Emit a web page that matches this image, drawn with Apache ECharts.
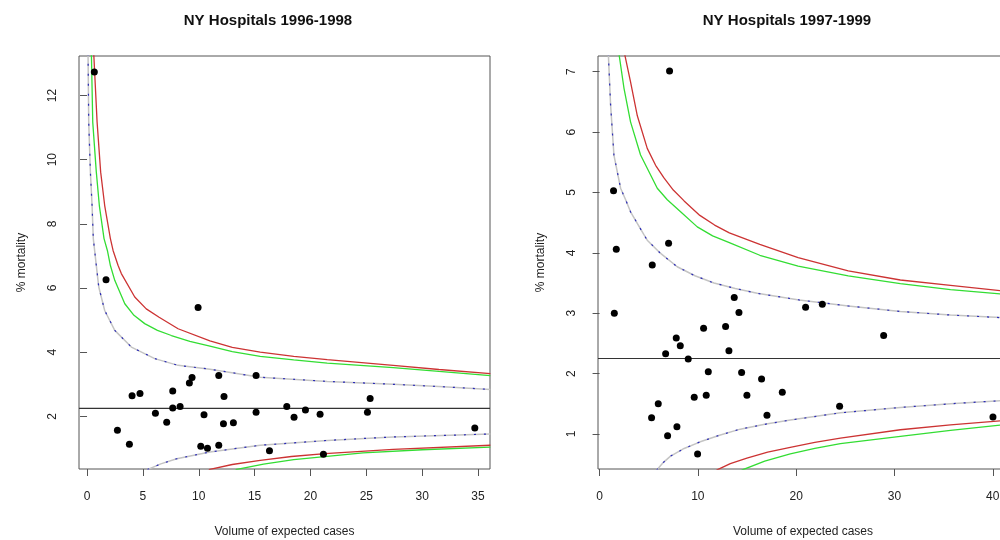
<!DOCTYPE html>
<html>
<head>
<meta charset="utf-8">
<script src="https://cdn.jsdelivr.net/npm/echarts@6/dist/echarts.min.js"></script>
<style>html,body{margin:0;padding:0;background:#fff}#c{width:1000px;height:540px}</style>
</head>
<body>
<div id="c"></div>
<script>
// ---------- Data: NY Hospitals 1996-1998 ----------
const titleA = 'NY Hospitals 1996-1998';
const xTicksA = [0, 5, 10, 15, 20, 25, 30, 35];
const yTicksA = [2, 4, 6, 8, 10, 12];
const volumeA = [0.65, 1.70, 9.94, 4.03, 4.74, 7.67, 9.16, 9.40, 11.79, 15.13, 12.26, 7.67, 8.33, 6.12, 10.47, 15.13, 17.88, 18.53, 19.55, 20.86, 25.10, 25.34, 2.72, 3.79, 7.13, 12.21, 13.10, 10.18, 10.78, 11.79, 16.33, 21.16, 34.71];
const mortalityA = [12.73, 6.26, 5.39, 2.64, 2.71, 2.79, 3.04, 3.21, 3.27, 3.27, 2.62, 2.26, 2.31, 2.10, 2.05, 2.13, 2.31, 1.97, 2.20, 2.07, 2.13, 2.56, 1.57, 1.13, 1.82, 1.77, 1.80, 1.07, 1.01, 1.10, 0.93, 0.82, 1.64];
const avgRateA = 2.25;
const redUpperA = [[0.6,13.3],[0.9,11.17],[1.22,9.61],[1.58,8.57],[2.09,7.54],[2.33,7.17],[2.78,6.70],[3.07,6.45],[4.27,5.72],[5.3,5.35],[6.45,5.09],[8.15,4.73],[11.0,4.35],[13.0,4.15],[15.5,4.0],[18.5,3.87],[21.5,3.77],[27.4,3.59],[31.5,3.46],[36.1,3.33]];
const greenUpperA = [[0.39,13.3],[0.51,11.17],[0.83,9.61],[1.10,8.57],[1.52,7.54],[1.82,7.17],[2.09,6.70],[2.48,6.24],[3.38,5.51],[4.2,5.15],[5.16,4.89],[6.3,4.68],[7.55,4.52],[9.2,4.34],[11.0,4.19],[13.0,4.02],[15.5,3.87],[18.5,3.76],[21.5,3.66],[27.4,3.52],[31.5,3.40],[36.1,3.27]];
const blueUpperA = [[0.09,13.3],[0.15,11.17],[0.30,9.61],[0.45,8.57],[0.56,7.54],[0.83,6.70],[1.05,6.03],[1.58,5.30],[2.48,4.68],[3.97,4.16],[6.06,3.80],[8.15,3.59],[11.0,3.47],[15.5,3.22],[21.5,3.09],[27.4,3.0],[31.5,2.93],[36.1,2.84]];
const blueLowerA = [[5.4,0.34],[6.6,0.52],[8.03,0.68],[11.0,0.89],[15.5,1.10],[21.5,1.25],[27.4,1.36],[36.1,1.45]];
const redLowerA = [[10.9,0.34],[13.0,0.50],[15.5,0.63],[18.3,0.75],[21.3,0.84],[27.4,0.97],[36.1,1.10]];
const greenLowerA = [[13.3,0.34],[15.8,0.51],[18.5,0.65],[24.7,0.86],[30.0,0.96],[36.1,1.04]];

// ---------- Data: NY Hospitals 1997-1999 ----------
const titleB = 'NY Hospitals 1997-1999';
const xTicksB = [0, 10, 20, 30, 40];
const yTicksB = [1, 2, 3, 4, 5, 6, 7];
const volumeB = [1.50, 20.96, 22.66, 28.90, 13.70, 14.18, 10.58, 12.82, 13.16, 7.80, 8.21, 6.72, 9.02, 11.06, 14.45, 16.48, 18.59, 9.63, 10.85, 14.99, 5.97, 5.29, 7.87, 6.92, 9.97, 17.03, 24.42, 40.02, 7.12, 1.42, 1.70, 7.02, 5.36];
const mortalityB = [3.00, 3.10, 3.15, 2.63, 3.26, 3.01, 2.75, 2.78, 2.38, 2.59, 2.46, 2.33, 2.24, 2.03, 2.02, 1.91, 1.69, 1.61, 1.64, 1.64, 1.50, 1.27, 1.12, 0.97, 0.67, 1.31, 1.46, 1.28, 7.01, 5.03, 4.06, 4.16, 3.80];
const avgRateB = 2.25;
const redUpperB = [[2.54,7.3],[3.15,6.83],[3.84,6.27],[4.85,5.73],[5.7,5.45],[6.55,5.24],[7.5,5.04],[8.6,4.86],[10.2,4.62],[11.7,4.46],[13.2,4.33],[16.3,4.14],[20.2,3.92],[25.3,3.70],[30.6,3.55],[35.7,3.46],[41.6,3.36]];
const greenUpperB = [[1.97,7.3],[2.48,6.73],[3.15,6.17],[4.17,5.62],[5.87,5.07],[6.89,4.88],[8.24,4.68],[9.94,4.43],[11.5,4.28],[13.2,4.17],[16.3,3.96],[20.2,3.78],[25.3,3.62],[30.6,3.49],[35.7,3.39],[41.6,3.31]];
const blueUpperB = [[0.89,7.3],[1.12,6.45],[1.46,5.62],[2.14,5.07],[2.65,4.88],[3.15,4.68],[4.51,4.30],[4.85,4.21],[6.21,3.99],[7.90,3.77],[9.7,3.62],[11.64,3.50],[13.8,3.41],[16.04,3.33],[20.3,3.22],[25.3,3.12],[30.6,3.03],[35.7,2.97],[41.6,2.92]];
const blueLowerB = [[5.8,0.40],[6.5,0.53],[7.19,0.63],[8.6,0.76],[10.24,0.87],[12.2,0.98],[14.31,1.08],[16.8,1.16],[19.4,1.23],[24.5,1.35],[30.6,1.44],[35.7,1.50],[41.6,1.56]];
const redLowerB = [[11.9,0.40],[13.3,0.51],[14.99,0.60],[17.1,0.70],[19.4,0.78],[21.9,0.86],[24.5,0.93],[30.6,1.07],[35.7,1.15],[41.6,1.23]];
const greenLowerB = [[14.45,0.40],[16.8,0.55],[19.4,0.67],[21.9,0.76],[24.5,0.84],[30.6,0.96],[35.7,1.06],[41.6,1.16]];

// ---------- Build ----------
const FONT = '"Liberation Sans", Arial, sans-serif';
const TXT = '#222';
const panels = [
  {xMin: -0.72, xMax: 36.07, yMin: 0.36, yMax: 13.23, xt: xTicksA, yt: yTicksA, vol: volumeA, mor: mortalityA, avg: avgRateA,
   ru: redUpperA, gu: greenUpperA, bu: blueUpperA, bl: blueLowerA, rl: redLowerA, gl: greenLowerA,
   grid: {left: 79, top: 56, width: 411, height: 413}},
  {xMin: -0.16, xMax: 41.55, yMin: 0.42, yMax: 7.26, xt: xTicksB, yt: yTicksB, vol: volumeB, mor: mortalityB, avg: avgRateB,
   ru: redUpperB, gu: greenUpperB, bu: blueUpperB, bl: blueLowerB, rl: redLowerB, gl: greenLowerB,
   grid: {left: 598, top: 56, width: 410, height: 413}}
];

const grids = [], xAxes = [], yAxes = [], series = [];
panels.forEach((p, i) => {
  grids.push(Object.assign({show: true, borderColor: '#555', borderWidth: 1, backgroundColor: 'transparent',
    containLabel: false, outerBoundsMode: 'none'}, p.grid));
  xAxes.push({
    type: 'value', gridIndex: i, min: p.xMin, max: p.xMax,
    name: 'Volume of expected cases', nameLocation: 'middle', nameGap: 57,
    nameTextStyle: {fontFamily: FONT, fontSize: 12, color: TXT},
    axisLine: {show: false}, splitLine: {show: false},
    axisTick: {show: true, length: 7, inside: false, customValues: p.xt, lineStyle: {color: '#555'}},
    axisLabel: {show: true, customValues: p.xt, margin: 22, fontFamily: FONT, fontSize: 12, color: TXT}
  });
  yAxes.push({
    type: 'value', gridIndex: i, min: p.yMin, max: p.yMax,
    name: '% mortality', nameLocation: 'middle', nameGap: 51, nameRotate: 90,
    nameTextStyle: {fontFamily: FONT, fontSize: 12, color: TXT},
    axisLine: {show: false}, splitLine: {show: false},
    axisTick: {show: true, length: 7, customValues: p.yt, lineStyle: {color: '#555'}},
    axisLabel: {show: true, customValues: p.yt, rotate: 90, margin: 20, fontFamily: FONT, fontSize: 12, color: TXT}
  });
  const line = (data, color, width, type, z) => ({
    type: 'line', xAxisIndex: i, yAxisIndex: i, data: data, showSymbol: false, symbol: 'none',
    clip: true, silent: true, z: z, lineStyle: {color: color, width: width, type: type, opacity: 1}
  });
  // blue limits: grey line with blue dashes
  series.push(line(p.bu, '#c4c4c4', 1.5, 'solid', 2));
  series.push(line(p.bu, '#2a2ab8', 1.2, [2, 8], 3));
  series.push(line(p.bl, '#c4c4c4', 1.5, 'solid', 2));
  series.push(line(p.bl, '#2a2ab8', 1.2, [2, 8], 3));
  series.push(line(p.gu, '#33dd33', 1.3, 'solid', 3));
  series.push(line(p.gl, '#33dd33', 1.3, 'solid', 3));
  series.push(line(p.ru, '#cc3333', 1.3, 'solid', 4));
  series.push(line(p.rl, '#cc3333', 1.3, 'solid', 4));
  series.push(line([[p.xMin, p.avg], [p.xMax, p.avg]], '#333', 1.2, 'solid', 5));
  series.push({
    type: 'scatter', xAxisIndex: i, yAxisIndex: i, symbol: 'circle', symbolSize: 7, z: 10,
    itemStyle: {color: '#000', opacity: 1}, data: p.vol.map((v, k) => [v, p.mor[k]])
  });
});

const chart = echarts.init(document.getElementById('c'), null, {renderer: 'canvas'});
chart.setOption({
  animation: false,
  backgroundColor: '#fff',
  grid: grids, xAxis: xAxes, yAxis: yAxes, series: series,
  graphic: [
    {type: 'text', x: 268, y: 21, style: {text: titleA, textAlign: 'center', textVerticalAlign: 'middle', font: 'bold 15px ' + FONT, fill: '#111'}},
    {type: 'text', x: 787, y: 21, style: {text: titleB, textAlign: 'center', textVerticalAlign: 'middle', font: 'bold 15px ' + FONT, fill: '#111'}}
  ]
});
</script>
</body>
</html>
